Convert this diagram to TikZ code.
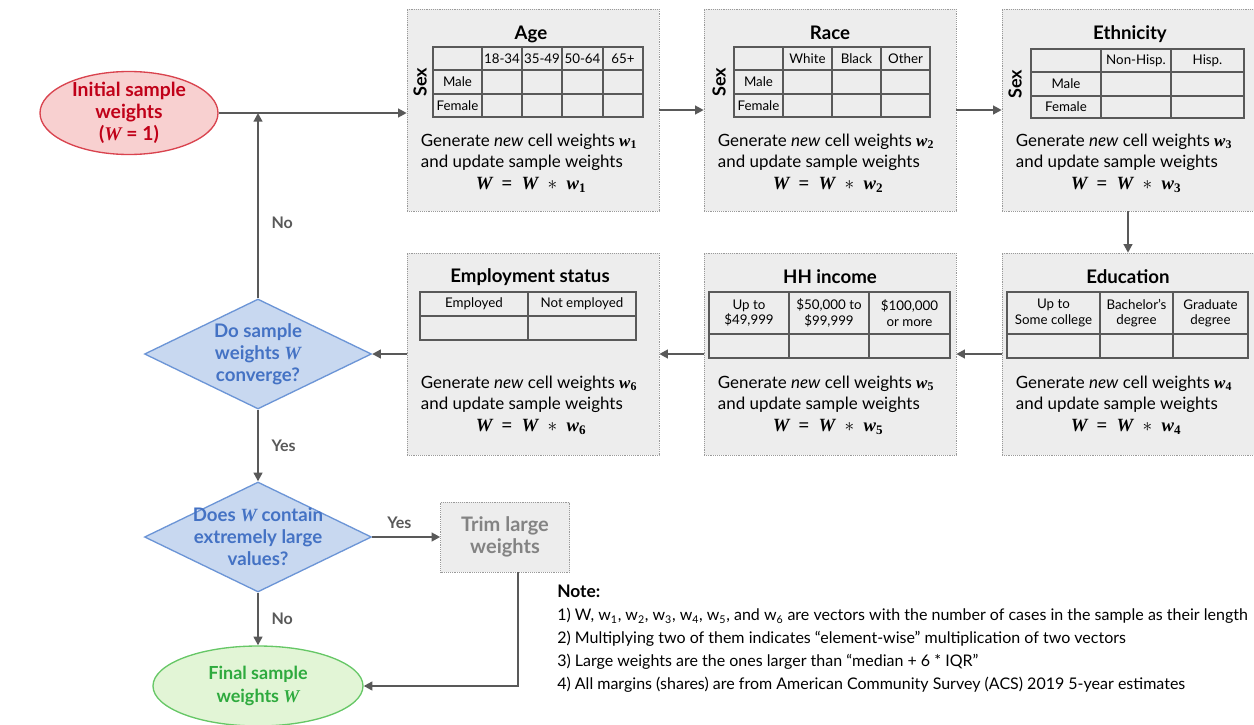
\documentclass[tikz,border=0pt]{standalone}
\usepackage{fontspec}
\setmainfont{Lato}
\newfontfamily\eqfont{Liberation Serif}
\usetikzlibrary{shapes.geometric, arrows.meta, positioning, calc}

\definecolor{panelfill}{HTML}{EDEDED}
\definecolor{panelline}{HTML}{9A9A9A}
\definecolor{flowgray}{HTML}{595959}
\definecolor{redfill}{HTML}{F8D0D0}
\definecolor{redline}{HTML}{D9434E}
\definecolor{redtext}{HTML}{C00018}
\definecolor{bluefill}{HTML}{C8D8F0}
\definecolor{blueline}{HTML}{6C95D6}
\definecolor{bluetext}{HTML}{4472C4}
\definecolor{greenfill}{HTML}{E2F5D6}
\definecolor{greenline}{HTML}{66C766}
\definecolor{greentext}{HTML}{2EAA3E}

\newcommand{\px}{0.75pt}
\newcommand{\vw}[1]{{\eqfont\bfseries\itshape w\textsubscript{\upshape#1}}}
\newcommand{\vW}{{\eqfont\bfseries\itshape W}}

\begin{document}
\begin{tikzpicture}[
    x=0.75pt, y=-0.75pt,
    panel/.style={draw=panelline, densely dotted, fill=panelfill, minimum width=252*\px, minimum height=202*\px},
    ttl/.style={font=\fontsize{14}{16}\selectfont\bfseries},
    grid/.style={draw=flowgray, line width=0.9pt},
    cell/.style={font=\fontsize{10}{11.5}\selectfont, align=center, inner sep=0pt},
    sexlbl/.style={font=\fontsize{13.5}{15}\selectfont\bfseries, rotate=90},
    upd/.style={font=\fontsize{12.7}{16}\selectfont, align=left, inner sep=0pt},
    eqn/.style={font=\fontsize{14}{16}\selectfont, inner sep=0pt},
    start/.style={ellipse, draw=redline, fill=redfill, line width=1pt, text=redtext, align=center,
        font=\fontsize{14.5}{16.5}\selectfont\bfseries, minimum width=178*\px, minimum height=83*\px, inner sep=-8pt},
    final/.style={ellipse, draw=greenline, fill=greenfill, line width=1pt, text=greentext, align=center,
        font=\fontsize{13.5}{17}\selectfont\bfseries, minimum width=210*\px, minimum height=80*\px, inner sep=0pt},
    decision/.style={diamond, aspect=2, draw=blueline, fill=bluefill, line width=1pt, text=bluetext, align=center,
        font=\fontsize{14}{16.5}\selectfont\bfseries, minimum width=227*\px, minimum height=110*\px,
        inner xsep=-18pt, inner ysep=-12pt},
    trimbox/.style={draw=panelline, densely dotted, fill=panelfill, text=flowgray!75, align=center,
        font=\fontsize{15}{17}\selectfont\bfseries, minimum width=129*\px, minimum height=70*\px, inner sep=0pt},
    lbl/.style={font=\fontsize{12}{14}\selectfont\bfseries, text=flowgray},
    arrow/.style={-{Triangle[length=6.5pt,width=6.5pt]}, line width=1.6pt, draw=flowgray},
    notes/.style={font=\fontsize{12}{17.2}\selectfont, align=left, inner sep=0pt}
]
    \useasboundingbox (0,0) rectangle (1254,725);

    % Raking panels
    \node[panel] (age) at (533,110) {};
    \node[panel] (race) at (830,110) {};
    \node[panel] (eth) at (1128,110) {};
    \node[panel] (edu) at (1128,354) {};
    \node[panel] (inc) at (830,354) {};
    \node[panel] (emp) at (533,354) {};

    \node[ttl] (age-t) at (531,34) {Age};
    \node[ttl] (race-t) at (830,33) {Race};
    \node[ttl] (eth-t) at (1130,34) {Ethnicity};
    \node[ttl] (edu-t) at (1128,277) {Education};
    \node[ttl] (inc-t) at (830,277) {HH income};
    \node[ttl] (emp-t) at (530,277) {Employment status};

    % Age x sex table
    \draw[grid] (433,47) rectangle (643,117);
    \foreach \y in {70,94} \draw[grid] (433,\y) -- (643,\y);
    \foreach \x in {482,522,562,603} \draw[grid] (\x,47) -- (\x,117);
    \foreach \i/\x/\t in {1/502/18-34, 2/542/35-49, 3/582.5/50-64, 4/623/65+}
        \node[cell] (age-h\i) at (\x,58.5) {\t};
    \node[cell] (age-m) at (457.5,82) {Male};
    \node[cell] (age-f) at (457.5,105.5) {Female};
    \node[sexlbl] (age-s) at (420,82) {Sex};

    % Race x sex table
    \draw[grid] (734,47) rectangle (930,117);
    \foreach \y in {70,94} \draw[grid] (734,\y) -- (930,\y);
    \foreach \x in {783,832,881} \draw[grid] (\x,47) -- (\x,117);
    \foreach \i/\x/\t in {1/807.5/White, 2/856.5/Black, 3/905.5/Other}
        \node[cell] (race-h\i) at (\x,58.5) {\t};
    \node[cell] (race-m) at (758.5,82) {Male};
    \node[cell] (race-f) at (758.5,105.5) {Female};
    \node[sexlbl] (race-s) at (719,82) {Sex};

    % Ethnicity x sex table
    \draw[grid] (1031,49) rectangle (1244,118);
    \foreach \y in {72,96} \draw[grid] (1031,\y) -- (1244,\y);
    \foreach \x in {1101,1171} \draw[grid] (\x,49) -- (\x,118);
    \node[cell] (eth-h1) at (1136,60.5) {Non-Hisp.};
    \node[cell] (eth-h2) at (1207.5,60.5) {Hisp.};
    \node[cell] (eth-m) at (1066,84) {Male};
    \node[cell] (eth-f) at (1066,107) {Female};
    \node[sexlbl] (eth-s) at (1015,84) {Sex};

    % Education table
    \draw[grid] (1007,292) rectangle (1248,358);
    \draw[grid] (1007,334) -- (1248,334);
    \foreach \x in {1100,1173} \draw[grid] (\x,292) -- (\x,358);
    \node[cell] (edu-h1) at (1053.5,313) {Up to\\Some college};
    \node[cell] (edu-h2) at (1136.5,313) {Bachelor's\\degree};
    \node[cell] (edu-h3) at (1210.5,313) {Graduate\\degree};

    % Income table
    \draw[grid] (709,292) rectangle (950,358);
    \draw[grid] (709,334) -- (950,334);
    \foreach \x in {789,869} \draw[grid] (\x,292) -- (\x,358);
    \node[cell] (inc-h1) at (749,313) {Up to\\\$49,999};
    \node[cell] (inc-h2) at (829,313) {\$50,000 to\\\$99,999};
    \node[cell] (inc-h3) at (909.5,313) {\$100,000\\or more};

    % Employment table
    \draw[grid] (420,292) rectangle (636,340);
    \draw[grid] (420,316) -- (636,316);
    \draw[grid] (528,292) -- (528,340);
    \node[cell] (emp-h1) at (474,304) {Employed};
    \node[cell] (emp-h2) at (582,304) {Not employed};

    % Update text in each panel
    \foreach \k/\cx/\ty in {1/533/152, 2/830/152, 3/1128/152, 4/1128/394, 5/830/394, 6/533/394} {
        \node[upd] (upd\k) at (\cx-4,\ty) {Generate \textit{new} cell weights \vw{\k}\\and update sample weights};
        \node[eqn] (eq\k) at (\cx-2,\ty+33) {\vW\enspace{\eqfont\bfseries =}\enspace\vW\enspace$\ast$\enspace\vw{\k}};
    }

    % Flow nodes
    \node[start] (init) at (129,113) {Initial sample\\weights\\({\eqfont\itshape W} = 1)};
    \node[decision] (conv) at (258,354) {Do sample\\weights {\eqfont\itshape W}\\converge?};
    \node[decision] (large) at (258,537) {Does {\eqfont\itshape W} contain\\extremely large\\values?};
    \node[trimbox] (trim) at (505,537) {Trim large\\weights};
    \node[final] (final) at (258,686) {Final sample\\weights {\eqfont\itshape W}};

    % Connectors
    \draw[arrow] (init.east) -- (init.east -| age.west);
    \draw[arrow] (conv.north) -- node[lbl, right=6pt, pos=0.41] (no1) {No} (conv.north |- init.east);
    \draw[arrow] (age) -- (race);
    \draw[arrow] (race) -- (eth);
    \draw[arrow] (eth) -- (edu);
    \draw[arrow] (edu) -- (inc);
    \draw[arrow] (inc) -- (emp);
    \draw[arrow] (emp) -- (conv);
    \draw[arrow] (conv) -- node[lbl, right=6pt] (yes1) {Yes} (large);
    \draw[arrow] (large) -- node[lbl, above=2pt, pos=0.4] (yes2) {Yes} (trim);
    \draw[arrow] (large) -- node[lbl, right=6pt] (no2) {No} (final);
    \draw[arrow] ([xshift=10pt]trim.south) |- (final.east);

    % Notes
    \node[notes, anchor=north west] (note) at (557,585) {{\fontsize{13}{15}\selectfont\bfseries Note:}\\
        1) W, w\textsubscript{1}, w\textsubscript{2}, w\textsubscript{3}, w\textsubscript{4}, w\textsubscript{5}, and w\textsubscript{6} are vectors with the number of cases in the sample as their length\\
        2) Multiplying two of them indicates ``element-wise'' multiplication of two vectors\\
        3) Large weights are the ones larger than ``median + 6 * IQR"\\
        4) All margins (shares) are from American Community Survey (ACS) 2019 5-year estimates};
\end{tikzpicture}
\end{document}
